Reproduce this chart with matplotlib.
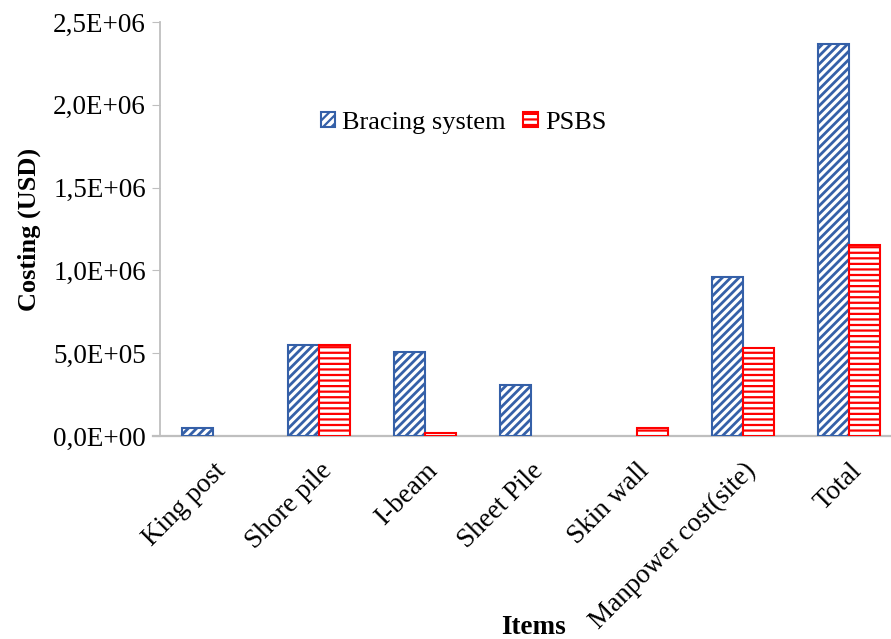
import matplotlib
matplotlib.use("Agg")
import matplotlib.pyplot as plt
from matplotlib.ticker import FuncFormatter
from matplotlib.patches import Patch
import numpy as np

categories = ["King post", "Shore pile", "I-beam", "Sheet Pile", "Skin wall",
              "Manpower cost(site)", "Total"]
bracing = [5.0e4, 5.5e5, 5.05e5, 3.05e5, 0, 9.6e5, 2.37e6]
psbs = [0, 5.5e5, 2.0e4, 0, 5.0e4, 5.3e5, 1.155e6]
y_ticks = [0, 5e5, 1e6, 1.5e6, 2e6, 2.5e6]

plt.rcParams['font.family'] = ['Liberation Serif', 'DejaVu Serif']

fig = plt.figure(figsize=(8.91, 6.39), dpi=100)
ax = fig.add_axes([160/891, 203/639, 742/891, 414/639])

x = np.arange(len(categories))
w = 0.29
blue_face = "#2E75B6"
blue_edge = "#3560A8"
red = "#FF0000"

plt.rcParams['hatch.linewidth'] = 2.0
plt.rcParams['hatch.color'] = blue_face
b1 = ax.bar(x - w/2, bracing, w, facecolor="white", edgecolor=blue_edge,
            hatch="////", linewidth=1.5)
h1 = Patch(facecolor="white", edgecolor=blue_edge, hatch="////",
           linewidth=1.5, label="Bracing system")

plt.rcParams['hatch.linewidth'] = 1.6
plt.rcParams['hatch.color'] = red
b2 = ax.bar(x + w/2, psbs, w, facecolor="white", edgecolor=red,
            hatch="---", linewidth=1.5)
h2 = Patch(facecolor="white", edgecolor=red, hatch="---",
           linewidth=1.5, label="PSBS")

for bars, vals in ((b1, bracing), (b2, psbs)):
    for p, v in zip(bars, vals):
        if v == 0:
            p.set_visible(False)

ax.set_xlim(-0.5, len(categories) - 0.5)
ax.set_ylim(0, 2.5e6)
ax.set_yticks(y_ticks)
ax.yaxis.set_major_formatter(FuncFormatter(
    lambda v, p: ("%.1E" % v).replace(".", ",")))

for s in ["top", "right", "bottom"]:
    ax.spines[s].set_visible(False)
ax.spines["left"].set_color("#BFBFBF")
ax.spines["left"].set_linewidth(1.3)
ax.axhline(0, xmin=-7/742, xmax=1, color="#BFBFBF", lw=1.6, clip_on=False,
           zorder=0.5)

ax.tick_params(axis="y", direction="out", length=6, color="#BFBFBF",
               labelsize=19.5, pad=4)
ax.tick_params(axis="x", length=0, labelsize=19.5, pad=16)
ax.set_xticks(x)
ax.set_xticklabels(categories, rotation=45, ha="right", rotation_mode="anchor")

ax.set_ylabel("Costing (USD)", fontsize=19, fontweight="bold", labelpad=9)
fig.text(533/891, 1 - 627/639, "Items", fontsize=19.5, fontweight="bold",
         ha="center", va="center")

ax.legend(handles=[h1, h2], loc="upper left", bbox_to_anchor=(310/891, 1 - 101/639),
          bbox_transform=fig.transFigure, ncol=2, frameon=False, fontsize=19,
          handlelength=0.55, handleheight=0.55, handletextpad=0.28,
          columnspacing=0.65, borderaxespad=0)

fig.savefig("out.png", dpi=100)
